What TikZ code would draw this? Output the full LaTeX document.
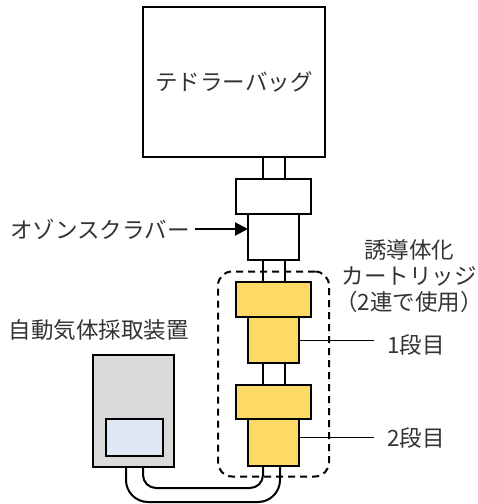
\documentclass[tikz,border=0pt]{standalone}
\usepackage{fontspec}
\setmainfont{Noto Sans CJK JP}
\usetikzlibrary{arrows.meta, positioning, fit}
\definecolor{cartucho}{HTML}{FFD966}
\definecolor{equipo}{HTML}{D9D9D9}
\definecolor{pantalla}{HTML}{DEE8F5}

\begin{document}
\begin{tikzpicture}[x=1pt, y=-1pt,
        pieza/.style={draw, rectangle, line width=2pt, outer sep=0pt, inner sep=0pt},
        tubo/.style={pieza, minimum width=22pt, minimum height=22pt},
        ancho/.style={pieza, minimum width=75pt},
        estrecho/.style={pieza, minimum width=51pt},
        etiqueta/.style={font=\fontsize{22.5}{26}\selectfont, text=black!80, align=center, inner sep=3pt},
        linea/.style={line width=0.9pt},
        arrow/.style={-{Triangle[length=13pt, width=13pt]}, line width=2pt}
    ]
        \useasboundingbox (0,0) rectangle (478,504);

        % Bolsa
        \node[pieza, minimum width=182pt, minimum height=150pt, etiqueta] (bag) at (234,82) {テドラーバッグ};

        % Columna: depurador y cartuchos
        \node[tubo] (tube1) at (273.5,168) {};
        \node[ancho, minimum height=35pt, below=0pt of tube1] (scrubtop) {};
        \node[estrecho, minimum height=46pt, below=0pt of scrubtop] (scrub) {};
        \node[tubo, below=0pt of scrub] (tube2) {};
        \node[ancho, fill=cartucho, minimum height=35pt, below=0pt of tube2] (cart1a) {};
        \node[estrecho, fill=cartucho, minimum height=46pt, below=0pt of cart1a] (cart1b) {};
        \node[tubo, below=0pt of cart1b] (tube3) {};
        \node[ancho, fill=cartucho, minimum height=34pt, below=0pt of tube3] (cart2a) {};
        \node[estrecho, fill=cartucho, minimum height=47pt, below=0pt of cart2a] (cart2b) {};

        % Grupo de cartuchos
        \node[draw, line width=2pt, dash pattern=on 7pt off 5pt, rounded corners=14pt,
            inner xsep=18pt, inner ysep=10.5pt, fit=(cart1a)(cart2b)] (grupo) {};

        % Equipo de muestreo
        \node[pieza, fill=equipo, minimum width=81pt, minimum height=112pt] (dev) at (133.5,411) {};
        \node[pieza, fill=pantalla, minimum width=57pt, minimum height=37pt] (screen) at (134.5,437.5) {};

        % Tubo de conexion
        \draw[line width=2pt, rounded corners=22pt] ([xshift=-7.5pt]dev.south) -- ++(0,35) -| ([xshift=6.5pt]cart2b.south);
        \draw[line width=2pt, rounded corners=13pt] ([xshift=9.5pt]dev.south) -- ++(0,21) -| ([xshift=-10.5pt]cart2b.south);

        % Etiquetas
        \node[etiqueta] (devlabel) at (99,330) {自動気体採取装置};
        \node[etiqueta] (ozlabel) at (100,229) {オゾンスクラバー};
        \draw[arrow] ([xshift=2pt]ozlabel.east) -- (ozlabel.east -| scrub.west);

        \node[etiqueta] (cartlabel) at (409,276) {誘導体化\\カートリッジ\\（2連で使用）};
        \node[etiqueta, anchor=west] (stage1) at (384,345) {1段目};
        \draw[linea] (cart1b.east) -- ([xshift=-10pt]cart1b.east -| stage1.west);
        \node[etiqueta, anchor=west] (stage2) at (384,438) {2段目};
        \draw[linea] ([yshift=5.5pt]cart2b.east) -- ([xshift=-10pt,yshift=5.5pt]cart2b.east -| stage2.west);
    \end{tikzpicture}
\end{document}
